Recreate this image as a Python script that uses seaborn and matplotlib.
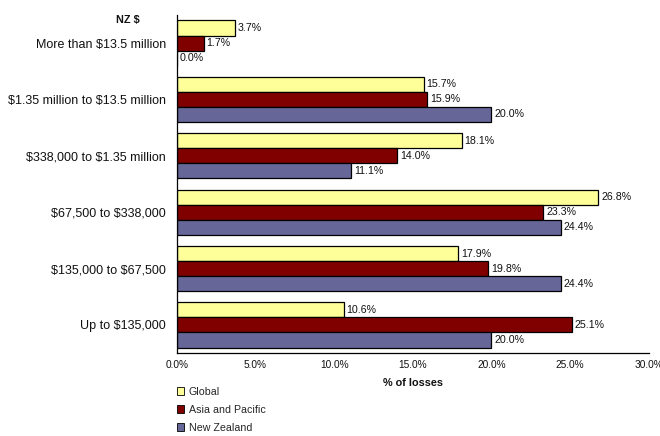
import matplotlib
matplotlib.use("Agg")
import matplotlib.pyplot as plt
import seaborn as sns
import pandas as pd
import numpy as np
from matplotlib.ticker import FixedLocator, FuncFormatter

categories = [
    "More than $13.5 million",
    "$1.35 million to $13.5 million",
    "$338,000 to $1.35 million",
    "$67,500 to $338,000",
    "$135,000 to $67,500",
    "Up to $135,000",
]
series = ["Global", "Asia and Pacific", "New Zealand"]
global_vals = [3.7, 15.7, 18.1, 26.8, 17.9, 10.6]
asia_vals = [1.7, 15.9, 14.0, 23.3, 19.8, 25.1]
nz_vals = [0.0, 20.0, 11.1, 24.4, 24.4, 20.0]
colors = ["#FFFF99", "#800000", "#666699"]

rows = []
for name, vals in zip(series, [global_vals, asia_vals, nz_vals]):
    for cat, v in zip(categories, vals):
        rows.append({"band": cat, "series": name, "value": v})
df = pd.DataFrame(rows)

sns.set_style("white")
plt.rcParams["font.family"] = ["Liberation Sans", "DejaVu Sans"]
plt.rcParams["text.parse_math"] = False

fig = plt.figure(figsize=(6.6, 4.36), dpi=100)
ax = fig.add_axes([0.268, 0.190, 0.715, 0.776])

sns.barplot(data=df, y="band", x="value", hue="series", order=categories,
            hue_order=series, palette=colors, orient="h", width=0.8,
            edgecolor="black", linewidth=0.9, saturation=1, ax=ax, legend=True)

for container in ax.containers:
    labels = [f"{b.get_width():.1f}%" for b in container]
    ax.bar_label(container, labels=labels, padding=2, fontsize=7.7, color="#111111")

ax.set_xlim(0, 30)
ax.set_ylim(len(categories) - 0.5, -0.5)
ax.set_xticks(np.arange(0, 30.1, 5))
ax.xaxis.set_major_formatter(FuncFormatter(lambda v, p: f"{v:.1f}%"))
ax.tick_params(axis="x", length=0, labelsize=7.3, pad=5, labelcolor="#111111")
ax.tick_params(axis="y", which="major", length=0, labelsize=9, pad=8, labelcolor="#111111")
ax.yaxis.set_minor_locator(FixedLocator(np.arange(-0.5, len(categories), 1.0)))
ax.tick_params(axis="y", which="minor", length=4, width=0.8, color="black", direction="out")
ax.set_ylabel("")
ax.set_xlabel("% of losses", fontsize=7.8, fontweight="bold", labelpad=6, color="#111111")

for side in ["top", "right"]:
    ax.spines[side].set_visible(False)
for side in ["left", "bottom"]:
    ax.spines[side].set_color("black")
    ax.spines[side].set_linewidth(0.9)

fig.text(0.193, 0.955, "NZ $", fontsize=7.8, fontweight="bold", ha="center", va="center",
         color="#111111")

ax.get_legend().remove()
handles = [plt.Rectangle((0, 0), 1, 1, facecolor=c, edgecolor="black", linewidth=0.6) for c in colors]
fig.legend(handles, series, loc="upper left", bbox_to_anchor=(0.268, 0.113),
           bbox_transform=fig.transFigure, frameon=False, fontsize=7.7,
           handlelength=0.7, handleheight=0.7, handletextpad=0.4,
           labelspacing=0.75, borderaxespad=0, borderpad=0)

fig.savefig("out.png", dpi=100)
